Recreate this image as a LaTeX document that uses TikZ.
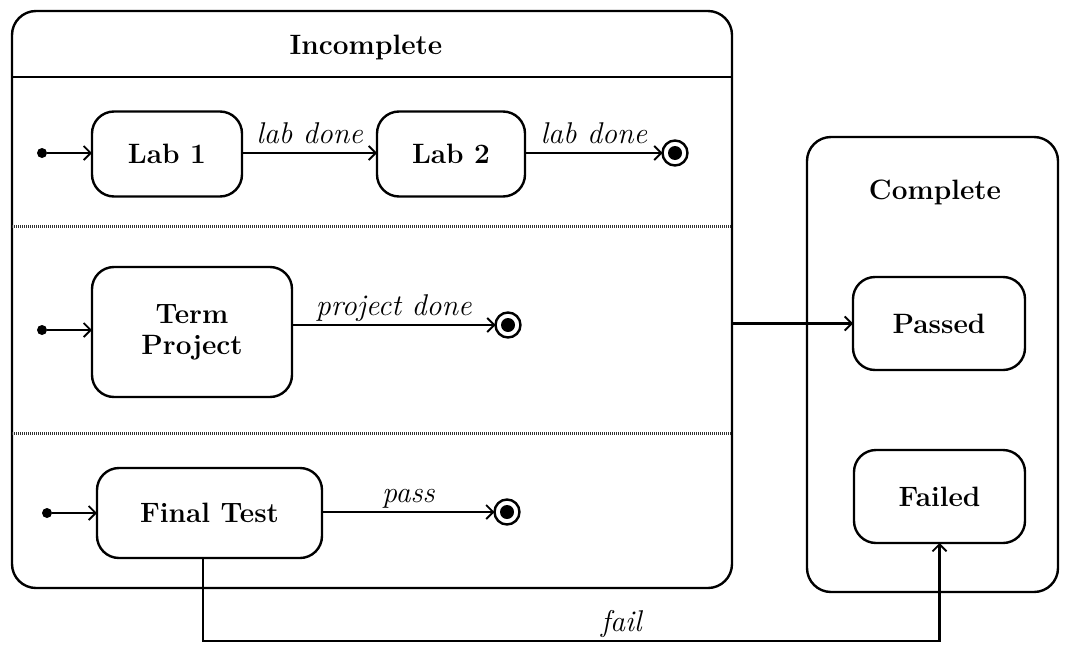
\documentclass[tikz,border=0pt]{standalone}
\usetikzlibrary{arrows.meta}
\begin{document}
\begin{tikzpicture}[x=1pt,y=-1pt,
  line width=2.4pt,
  every node/.style={inner sep=0pt, outer sep=0pt},
  region/.style={draw, rounded corners=24pt},
  state/.style={draw, rounded corners=22pt, align=center,
    font=\fontsize{28}{31}\selectfont\bfseries},
  title/.style={font=\fontsize{28}{31}\selectfont\bfseries},
  lbl/.style={font=\fontsize{30}{34}\selectfont\itshape, anchor=base, yshift=10pt},
  initdot/.style={circle, fill=black, minimum size=10pt},
  finalst/.style={circle, draw, fill=white, minimum size=25pt,
    path picture={\fill[black] (path picture bounding box.center) circle (7pt);}},
  tr/.style={-{Straight Barb[length=7pt,width=14pt,line width=1.8pt]}},
  sep/.style={line width=3pt, black!80, dash pattern=on 1pt off 1pt}
]
\useasboundingbox (0,0) rectangle (1070,645);

% composite states
\node[region, minimum width=720pt, minimum height=577pt] (inc) at (372,299.5) {};
\node[region, minimum width=251pt, minimum height=455pt] (cmp) at (932.5,364.5) {};
\node[title] (inct) at (366,47) {Incomplete};
\node[title] (cmpt) at (935,192) {Complete};

% header and region separators
\draw (inc.west |- 0,77) -- (inc.east |- 0,77);
\draw[sep] (inc.west |- 0,226) -- (inc.east |- 0,226);
\draw[sep] (inc.west |- 0,433) -- (inc.east |- 0,433);

% region 1: labs
\node[initdot] (i1) at (42,153) {};
\node[state, minimum width=150pt, minimum height=85pt] (lab1) at (167,154) {Lab 1};
\node[state, minimum width=148pt, minimum height=85pt] (lab2) at (451,154) {Lab 2};
\node[finalst] (f1) at (675,153) {};
\draw[tr] (i1) -- (lab1.west |- i1);
\draw[tr] (lab1.east |- i1) -- node[lbl] {lab done} (lab2.west |- i1);
\draw[tr] (lab2.east |- i1) -- node[lbl] {lab done} (f1);

% region 2: term project
\node[initdot] (i2) at (42,330) {};
\node[state, minimum width=200pt, minimum height=130pt] (tp) at (192,332) {Term\\Project};
\node[finalst] (f2) at (508,325) {};
\draw[tr] (i2) -- (tp.west |- i2);
\draw[tr] (tp.east |- f2) -- node[lbl] {project done} (f2);

% region 3: final test
\node[initdot] (i3) at (47,513) {};
\node[state, minimum width=225pt, minimum height=90pt] (ft) at (209.5,513) {Final Test};
\node[finalst] (f3) at (507,512) {};
\draw[tr] (i3) -- (ft.west |- i3);
\draw[tr] (ft.east |- f3) -- node[lbl] {pass} (f3);

% complete substates
\node[state, minimum width=172pt, minimum height=93pt] (pas) at (939,323.5) {Passed};
\node[state, minimum width=171pt, minimum height=93pt] (fail) at (939.5,496.5) {Failed};

% transitions between composite states
\draw[tr] (inc.east |- pas) -- (pas.west);
\coordinate (fb) at (203,641);
\draw[tr] (ft.south -| fb) -- (fb) -| node[lbl, pos=0.284] {fail} (fail.south);
\end{tikzpicture}
\end{document}
